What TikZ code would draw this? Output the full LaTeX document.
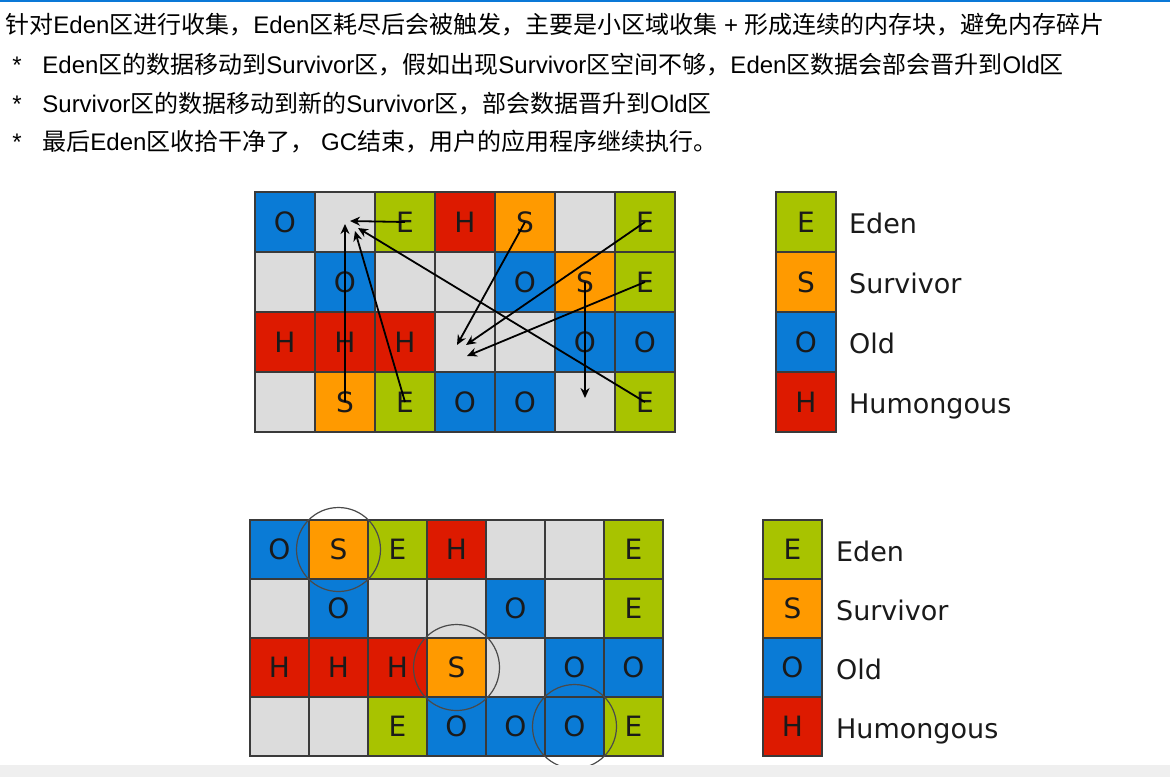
\documentclass[tikz,border=0pt]{standalone}
\usepackage{fontspec}
\setmainfont{Liberation Sans}
\newfontfamily\cjkfont{Noto Sans CJK SC}
\newfontfamily\slidefont{DejaVu Sans}
\usetikzlibrary{arrows.meta, positioning}

\definecolor{edengreen}{HTML}{A8C300}
\definecolor{survorange}{HTML}{FF9A00}
\definecolor{oldblue}{HTML}{0A7BD6}
\definecolor{humred}{HTML}{DD1A00}
\definecolor{freegray}{HTML}{DCDCDC}
\definecolor{gridline}{HTML}{3A3A3A}
\definecolor{letterink}{HTML}{1A1A1A}
\definecolor{ringgray}{HTML}{4A4A4A}
\definecolor{topbar}{HTML}{0A78D7}
\definecolor{statusbar}{HTML}{EFEFEF}

\newcommand\zh[1]{{\cjkfont #1}}
\newcommand\regiontext[1]{\if N#1\else#1\fi}

\begin{document}
\begin{tikzpicture}[
    x=0.5pt, y=-0.5pt,
    cell/.style={rectangle, draw=gridline, line width=0.7pt, minimum size=30pt, inner sep=0pt, font=\slidefont\fontsize{14}{14}\selectfont, text=letterink},
    smallcell/.style={cell, minimum size=29.5pt},
    kind E/.style={fill=edengreen},
    kind S/.style={fill=survorange},
    kind O/.style={fill=oldblue},
    kind H/.style={fill=humred},
    kind N/.style={fill=freegray},
    legendtext/.style={inner sep=0pt, text height=9.8pt, text depth=0pt, font=\slidefont\fontsize{13.5}{13.5}\selectfont, text=letterink},
    textline/.style={anchor=base west, inner sep=0pt, font=\fontsize{12}{14}\selectfont},
    arrow/.style={-{Stealth[length=5pt, width=4.5pt]}, line width=0.9pt},
    ring/.style={draw=ringgray, line width=0.6pt},
]
    \useasboundingbox (0,0) rectangle (1170,777);
    \fill[topbar] (0,0) rectangle (1170,2);

    % Text
    \node[textline] (intro) at (5,33) {\zh{针对}Eden\zh{区进行收集，}Eden\zh{区耗尽后会被触发，主要是小区域收集} + \zh{形成连续的内存块，避免内存碎片}};
    \node[textline] (star1) at (12,73) {*};
    \node[textline] (item1) at (42,73) {Eden\zh{区的数据移动到}Survivor\zh{区，假如出现}Survivor\zh{区空间不够，}Eden\zh{区数据会部会晋升到}Old\zh{区}};
    \node[textline] (star2) at (12,112) {*};
    \node[textline] (item2) at (42,112) {Survivor\zh{区的数据移动到新的}Survivor\zh{区，部会数据晋升到}Old\zh{区}};
    \node[textline] (star3) at (12,150) {*};
    \node[textline] (item3) at (42,150) {\zh{最后}Eden\zh{区收拾干净了，} GC\zh{结束，用户的应用程序继续执行。}};

    % Heap before collection
    \foreach \row [count=\r] in {{O,N,E,H,S,N,E},{N,O,N,N,O,S,E},{H,H,H,N,N,O,O},{N,S,E,O,O,N,E}}
        \foreach \k [count=\c] in \row
            \node[cell, kind \k] (a-\r-\c) at ({225+60*\c},{162+60*\r}) {\regiontext{\k}};

    % Heap after collection
    \foreach \row [count=\r] in {{O,S,E,H,N,N,E},{N,O,N,N,O,N,E},{H,H,H,S,N,O,O},{N,N,E,O,O,O,E}}
        \foreach \k [count=\c] in \row
            \node[smallcell, kind \k] (b-\r-\c) at ({220.5+59*\c},{490.5+59*\r}) {\regiontext{\k}};

    % Legends
    \foreach \k/\name [count=\r] in {E/Eden,S/Survivor,O/Old,H/Humongous} {
        \node[cell, kind \k] (la-\r) at (806,{162+60*\r}) {\k};
        \node[legendtext, right=6pt of la-\r, yshift=-1pt] (la-\r-text) {\name};
        \node[smallcell, kind \k] (lb-\r) at (792.5,{490.5+59*\r}) {\k};
        \node[legendtext, right=6.5pt of lb-\r, yshift=-1pt] (lb-\r-text) {\name};
    }

    % Arrow targets
    \coordinate (dst1) at (350,221);
    \coordinate (dst2) at (345,224);
    \coordinate (dst3) at (355,231);
    \coordinate (dst4) at (358,228);
    \coordinate (dst5) at (457,345);
    \coordinate (dst6) at (466,345);
    \coordinate (dst7) at (467,356);
    \coordinate (dst8) at (585,398);

    % Arrows
    \draw[arrow] (a-1-3.center) -- (dst1);
    \draw[arrow] (a-4-2.center) -- (dst2);
    \draw[arrow] (a-4-3.center) -- (dst3);
    \draw[arrow] (a-4-7.center) -- (dst4);
    \draw[arrow] (a-1-5.center) -- (dst5);
    \draw[arrow] (a-1-7.center) -- (dst6);
    \draw[arrow] (a-2-7.center) -- (dst7);
    \draw[arrow] (a-2-6.center) -- (dst8);

    % Circled regions
    \draw[ring] (b-1-2.center) circle[radius=21pt];
    \draw[ring] (b-3-4.center) circle[radius=21.5pt];
    \draw[ring] (b-4-6.center) circle[radius=21pt];

    \fill[statusbar] (0,765) rectangle (1170,777);
\end{tikzpicture}
\end{document}
